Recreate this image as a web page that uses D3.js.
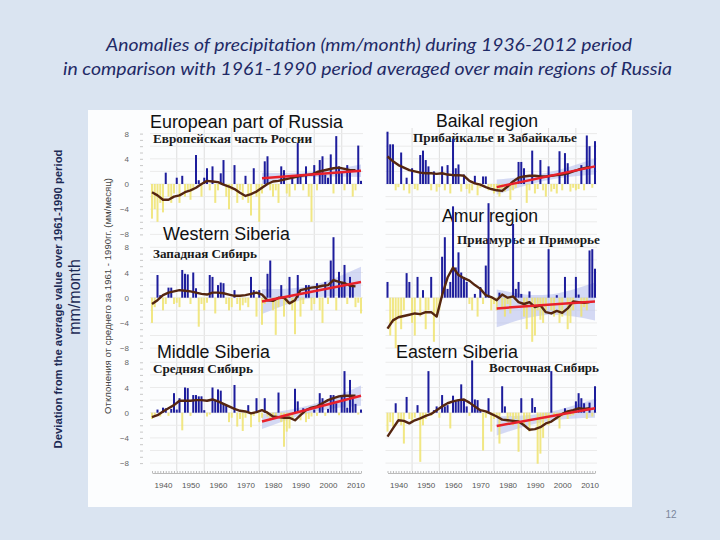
<!DOCTYPE html>
<html>
<head>
<meta charset="utf-8">
<script src="https://cdn.jsdelivr.net/npm/d3@7"></script>
<style>
  body { margin: 0; background: #dae4f1; }
</style>
</head>
<body>
<div class="chart"></div>
<script>
// yearly anomalies 1936-2012, mm/month
const years = d3.range(1936, 2013);

const euBars = [
  -5.5, -4.0, -6.0, -3.0, -4.5, 1.8, -2.0, -3.0, -1.5, 1.0,
  -3.0, 1.3, -2.0, -1.0, -2.5, -1.0, 4.6, 0.6, -2.0, 1.0,
  2.5, -1.0, 2.8, -3.0, -1.0, 1.7, 3.8, -2.0, -4.0, -1.0,
  3.0, -3.0, -1.0, -2.5, 1.3, -3.0, -5.0, 2.5, -2.0, -6.0,
  -1.5, 3.6, 4.4, -1.0, -2.0, -1.0, -3.0, 2.8, 2.2, -1.5,
  -2.0, 1.0, -1.0, 6.5, 1.5, -1.0, 2.8, -2.0, -6.0, 3.0,
  -1.0, 3.8, 4.4, 1.5, 1.0, 4.7, -1.5, 7.6, 2.8, 2.0,
  -1.0, 3.0, 2.0, -2.0, -1.0, 6.1, 0.5
];
const baikalBars = [
  8.3, 6.3, 6.3, -1.0, -0.5, 5.0, -1.0, 1.0, -1.5, 2.5,
  -0.8, -1.0, 4.6, 5.3, 3.8, 2.8, -1.0, 2.0, -1.2, -0.5,
  2.8, -1.0, 3.0, -1.5, 7.2, 2.5, 3.1, -1.2, 1.5, -0.8,
  -1.5, -1.0, 1.3, -1.8, -0.6, 1.2, 1.2, -1.0, -0.5, -1.5,
  -1.0, -2.0, -0.8, -1.2, -0.5, -2.5, -1.0, -0.6, 3.5, 3.5,
  2.5, -3.0, -1.0, 5.3, -1.5, -0.8, 3.8, -1.0, -2.0, 2.8,
  -1.2, -0.8, -1.5, 5.2, -1.0, 4.9, 3.3, -1.2, -0.6, -1.0,
  -0.8, 3.0, -1.0, 7.7, 6.0, -0.6, 6.8
];
const wsibBars = [
  -4.0, -1.5, 3.6, 0.4, -2.0, -1.0, 1.6, 1.6, -1.0, -0.8,
  -1.5, 4.4, 3.8, 3.7, -1.0, 4.0, 1.5, -4.6, -1.0, -2.0,
  -0.8, 3.6, 3.3, -2.5, 2.0, 2.4, 2.3, -1.0, -2.0, -1.5,
  1.2, -1.0, -2.0, -1.2, -0.8, -1.5, 3.3, 1.2, -3.0, 1.2,
  -4.3, -1.0, 3.8, 5.9, -2.0, -5.9, -1.5, 2.0, -3.0, -1.0,
  3.3, -2.0, -5.8, 3.6, -3.0, -1.0, 2.0, 2.0, -2.0, -1.0,
  2.3, -2.0, -4.0, 2.5, -1.0, 5.9, 9.6, -2.0, 4.1, 2.5,
  5.2, -1.0, 3.3, 1.7, -1.5, -0.8, -2.5
];
const amurBars = [
  2.5, -6.0, -4.0, -8.0, -3.0, -5.0, -2.0, 3.9, 2.5, -4.0,
  -6.0, 3.3, -3.0, 1.2, -5.0, -2.0, 3.3, -7.0, -3.0, -2.0,
  6.5, 9.6, 1.4, 2.5, 14.5, 4.8, 7.2, 4.0, 3.3, 2.5,
  -1.0, -2.0, 0.6, -3.0, 1.7, -1.0, 5.1, 15.0, -2.0, -1.0,
  -2.0, 0.8, -1.5, -3.0, -1.0, -2.5, 11.7, 1.4, 2.5, 0.6,
  -3.0, -5.0, 1.0, -7.0, -6.0, -2.0, -3.5, -4.0, -2.0, 7.7,
  -2.0, -3.0, 0.4, -4.0, -3.0, 3.3, -5.0, -4.0, -2.0, 3.3,
  0.5, -3.0, -1.5, -2.0, 7.5, 7.7, 4.6
];
const msibBars = [
  -1.0, -0.5, 0.5, -0.6, 0.8, 0.7, -0.5, 0.6, 3.1, 0.5,
  2.3, -2.8, 4.0, 3.9, -0.5, 2.8, 2.8, 2.6, 2.6, 0.4,
  -0.6, -0.3, 4.0, 2.0, 3.7, 3.5, 1.5, 1.2, -1.5, -0.8,
  4.4, -2.2, -1.0, -2.9, -0.8, 1.2, -2.3, -0.5, 2.3, -1.5,
  -0.8, 2.3, -0.6, -1.0, -0.5, -0.8, 3.2, -1.5, -5.4, -3.0,
  -2.5, -1.0, 3.8, 1.8, -1.2, 0.7, -1.5, -1.0, -0.6, 0.5,
  -0.5, 3.1, 2.3, -0.5, 0.6, 2.8, 2.8, 1.5, -0.4, 2.8,
  6.6, 0.8, 5.2, 2.3, 1.4, -0.3, 0.5
];
const esibBars = [
  -3.0, -1.5, -2.2, 1.5, -1.0, -2.0, -4.9, 2.5, -1.0, -1.5,
  -0.8, 1.2, -7.8, -2.0, -1.0, 6.6, -0.5, 0.4, 1.0, -0.8,
  2.8, 1.0, 1.2, -2.5, 2.7, 1.8, 1.9, 4.5, 1.9, 1.0,
  -0.5, 8.3, 2.1, 2.0, 0.4, -6.0, -0.8, 2.3, -3.0, -1.0,
  -0.8, -4.9, 4.2, 1.0, -1.5, -0.6, -2.0, -1.0, -6.2, 2.3,
  -2.0, -1.0, -3.0, 2.3, 0.9, -8.1, -6.5, -4.0, -1.0, -2.0,
  6.6, -0.5, -1.0, -2.5, -0.6, 0.7, -1.0, -0.5, -0.4, 1.8,
  3.1, 2.3, 1.5, -1.0, 1.6, -0.6, 4.2
];

// smoothed curves (brown), read every second year 1936-2010
const smoothYears = d3.range(1936, 2011, 2);
const euSmooth = [
  -1.3, -1.8, -2.5, -2.5, -2.0, -1.8, -1.3, -1.0, -0.6, 0.0,
  0.5, 0.4, 0.3, -0.1, -0.4, -0.8, -1.4, -1.9, -1.6, -1.2,
  -0.6, 0.0, 0.4, 0.5, 0.7, 0.9, 1.1, 1.3, 1.4, 1.5,
  1.9, 2.1, 2.3, 2.5, 2.6, 2.4, 2.2, 2.2
];
const baikalSmooth = [
  4.4, 3.6, 3.0, 2.6, 2.2, 2.0, 1.8, 1.7, 1.7, 1.6,
  1.7, 1.5, 1.4, 1.4, 1.3, 0.5, 0.1, -0.1, -0.5, -0.8,
  -1.0, -1.1, -0.4, 0.4, 1.0, 1.2, 1.3, 1.3, 1.2, 1.2,
  1.3, 1.4, 1.5, 1.7, 2.0, 2.3, 2.5, 2.7
];
const wsibSmooth = [
  -1.0, -0.4, 0.4, 0.8, 1.0, 1.2, 1.1, 1.0, 0.8, 0.6,
  0.5, 0.8, 0.8, 0.7, 0.5, 0.3, 0.3, 0.4, 0.6, 0.8,
  0.5, -0.4, -0.5, 0.0, 0.0, -0.9, -0.4, 1.2, 1.4, 1.6,
  1.7, 1.9, 2.0, 2.8, 2.5, 2.3, 1.9, 1.8
];
const amurSmooth = [
  -4.9, -3.6, -3.1, -2.9, -2.7, -2.5, -2.6, -2.3, -2.3, -3.0,
  0.4, 3.2, 4.8, 3.6, 3.1, 2.7, 2.0, 1.4, 0.4, 0.1,
  -0.4, 0.5, 0.0, 0.2, -0.7, -1.0, -0.7, -1.5, -1.2, -2.3,
  -2.5, -2.1, -2.4, -1.7, -0.6, -0.7, -0.8, -0.7
];
const msibSmooth = [
  -0.7, -0.4, 0.2, 0.7, 1.2, 1.9, 1.9, 1.9, 2.0, 2.0,
  1.9, 2.1, 1.8, 1.4, 1.0, 0.6, 0.3, 0.2, -0.1, 0.1,
  0.4, 0.0, -0.6, -0.7, -0.8, -0.8, -1.2, -0.4, 0.4, 0.8,
  1.0, 1.5, 2.0, 2.3, 2.6, 2.7, 2.7, 2.7
];
const esibSmooth = [
  -3.8, -2.5, -1.2, -1.3, -1.7, -1.2, -0.9, -0.5, -0.2, 0.4,
  1.0, 1.5, 1.8, 2.0, 2.1, 1.6, 1.0, 0.4, 0.2, -0.2,
  -0.6, -1.1, -1.2, -1.3, -1.4, -2.0, -2.7, -2.6, -2.3, -1.7,
  -1.4, -0.8, -0.2, 0.2, 0.4, 0.7, 0.6, 0.7
];

// linear trend 1976-2012 and its confidence half-width (start, middle, end)
const trendYears = [1976, 1994, 2012];
const trendStart = [0.9, -0.5, -0.6, -1.7, -1.4, -2.1];
const trendEnd = [2.1, 2.8, 2.5, -0.6, 2.7, 0.7];
const bandHalf = [
  [0.9, 0.4, 1.0],
  [1.2, 0.6, 1.3],
  [2.0, 1.0, 2.4],
  [3.0, 1.6, 3.0],
  [1.2, 0.6, 1.6],
  [1.5, 0.7, 1.5]
];

const regionsEn = ['European part of Russia', 'Baikal region', 'Western Siberia',
  'Amur region', 'Middle Siberia', 'Eastern Siberia'];
const regionsRu = ['Европейская часть России', 'Прибайкалье и Забайкалье', 'Западная Сибирь',
  'Приамурье и Приморье', 'Средняя Сибирь', 'Восточная Сибирь'];
const yTicks = [-8, -4, 0, 4, 8];
const xTicks = [1940, 1950, 1960, 1970, 1980, 1990, 2000, 2010];

const allBars = [euBars, baikalBars, wsibBars, amurBars, msibBars, esibBars];
const allSmooth = [euSmooth, baikalSmooth, wsibSmooth, amurSmooth, msibSmooth, esibSmooth];

// layout
const width = 720;
const height = 540;
const colRange = [[152, 361], [387.5, 595]];
const rowZero = [184, 297.7, 412.7];
const unit = 6.3;
// x, baseline, text width
const enPos = [[150, 128, 193], [436, 127, 102], [163, 240, 127], [442, 222, 96], [157, 358, 113], [396, 358, 122]];
const ruPos = [[153, 143, 159], [413, 142, 164], [153, 257.5, 104], [457, 244, 143], [153, 373, 100], [489, 372, 110]];

const svg = d3.select('.chart').append('svg')
  .attr('width', width)
  .attr('height', height)
  .style('display', 'block');

svg.append('rect')
  .attr('width', width).attr('height', height)
  .attr('fill', '#dae4f1');

svg.append('rect')
  .attr('x', 88).attr('y', 110)
  .attr('width', 544).attr('height', 397)
  .attr('fill', '#fcfdfe');

// title
const title = svg.append('g')
  .attr('font-family', 'Lato, "Open Sans", sans-serif')
  .attr('font-style', 'italic')
  .attr('font-size', 18)
  .attr('fill', '#1f2a66')
  .attr('text-anchor', 'middle');
title.append('text').attr('x', 369).attr('y', 51)
  .attr('textLength', 526).attr('lengthAdjust', 'spacingAndGlyphs')
  .text('Anomalies of precipitation (mm/month) during 1936-2012 period');
title.append('text').attr('x', 367.5).attr('y', 75)
  .attr('textLength', 609).attr('lengthAdjust', 'spacingAndGlyphs')
  .text('in comparison with 1961-1990 period averaged over main regions of Russia');

// left side labels
svg.append('text')
  .attr('transform', 'translate(62,299) rotate(-90)')
  .attr('text-anchor', 'middle')
  .attr('font-family', '"Liberation Sans", Arial, sans-serif')
  .attr('font-weight', 'bold')
  .attr('font-size', 11.3)
  .attr('fill', '#1c2a55')
  .text('Deviation from the average value over 1961-1990 period');
svg.append('text')
  .attr('transform', 'translate(80,297) rotate(-90)')
  .attr('text-anchor', 'middle')
  .attr('font-family', '"Liberation Sans", Arial, sans-serif')
  .attr('font-size', 16)
  .attr('fill', '#1c2a55')
  .text('mm/month');
svg.append('text')
  .attr('transform', 'translate(111,296) rotate(-90)')
  .attr('text-anchor', 'middle')
  .attr('font-family', '"Liberation Sans", Arial, sans-serif')
  .attr('font-size', 9.6)
  .attr('fill', '#444')
  .text('Отклонения от среднего за 1961 - 1990гг. (мм/месяц)');

// page number
svg.append('text')
  .attr('x', 671).attr('y', 518)
  .attr('text-anchor', 'middle')
  .attr('font-family', '"Liberation Sans", Arial, sans-serif')
  .attr('font-size', 10)
  .attr('fill', '#7a879c')
  .text('12');

// grid for both columns
colRange.forEach(r => {
  const x = d3.scaleLinear().domain([1936, 2012]).range(r);
  const g = svg.append('g');
  g.selectAll('line.v')
    .data(d3.range(1945, 2012, 10))
    .enter().append('line')
    .attr('x1', d => x(d)).attr('x2', d => x(d))
    .attr('y1', 128).attr('y2', 471)
    .attr('stroke', '#dedede').attr('stroke-width', 1);
  rowZero.forEach(z => {
    g.selectAll(null)
      .data(d3.range(-8, 9, 2))
      .enter().append('line')
      .attr('x1', r[0] - 2).attr('x2', r[1] + 2)
      .attr('y1', d => z - d * unit).attr('y2', d => z - d * unit)
      .attr('stroke', '#ebebeb').attr('stroke-width', 1);
  });
});

const brown = '#552610';

allBars.forEach((vals, i) => {
  const col = i % 2;
  const row = Math.floor(i / 2);
  const z = rowZero[row];
  const x = d3.scaleLinear().domain([1936, 2012]).range(colRange[col]);
  const y = d3.scaleLinear().domain([-8, 8]).range([z + 8 * unit, z - 8 * unit]);
  const g = svg.append('g');

  // region labels
  g.append('text')
    .attr('x', enPos[i][0]).attr('y', enPos[i][1])
    .attr('textLength', enPos[i][2]).attr('lengthAdjust', 'spacingAndGlyphs')
    .attr('font-family', '"Liberation Sans", Arial, sans-serif')
    .attr('font-size', 17.5)
    .attr('fill', '#111')
    .text(regionsEn[i]);
  g.append('text')
    .attr('x', ruPos[i][0]).attr('y', ruPos[i][1])
    .attr('textLength', ruPos[i][2]).attr('lengthAdjust', 'spacingAndGlyphs')
    .attr('font-family', '"Liberation Serif", "DejaVu Serif", serif')
    .attr('font-weight', 'bold')
    .attr('font-size', 12)
    .attr('fill', '#1a1a1a')
    .text(regionsRu[i]);

  // y axis on left column
  if (col === 0) {
    const ax = g.append('g')
      .attr('transform', `translate(${colRange[0][0] - 11},0)`)
      .call(d3.axisLeft(y).tickValues(yTicks).tickSize(0).tickPadding(12).tickFormat(d3.format('d')));
    ax.select('.domain').remove();
    ax.selectAll('text')
      .attr('font-family', '"Liberation Sans", Arial, sans-serif')
      .attr('font-size', 8).attr('fill', '#666');
    const minor = g.append('g')
      .attr('transform', `translate(${colRange[0][0] - 9},0)`)
      .call(d3.axisLeft(y).tickValues(d3.range(-8, 9, 1)).tickSize(3).tickFormat(''));
    minor.select('.domain').remove();
    minor.selectAll('line').attr('stroke', '#c8c8c8');
  }

  // confidence band around the trend
  const tMid = (trendStart[i] + trendEnd[i]) / 2;
  const centre = [trendStart[i], tMid, trendEnd[i]];
  const band = trendYears.map((yr, k) => ({
    yr: yr, lo: centre[k] - bandHalf[i][k], hi: centre[k] + bandHalf[i][k]
  }));
  g.append('path')
    .datum(band)
    .attr('d', d3.area()
      .x(d => x(d.yr))
      .y0(d => y(d.lo))
      .y1(d => y(d.hi))
      .curve(d3.curveNatural))
    .attr('fill', '#b9c1ec')
    .attr('opacity', 0.6);

  // bars
  g.selectAll('rect.bar')
    .data(vals)
    .enter().append('rect')
    .attr('x', (d, k) => x(years[k]) - 1)
    .attr('y', d => Math.min(y(d), y(0)))
    .attr('width', 2)
    .attr('height', d => Math.abs(y(d) - y(0)))
    .attr('fill', d => d >= 0 ? '#1d1d9c' : '#efe36e')
    .attr('opacity', d => d >= 0 ? 1 : 0.85);

  // smoothed curve
  g.append('path')
    .datum(allSmooth[i])
    .attr('d', d3.line()
      .x((d, k) => x(smoothYears[k]))
      .y(d => y(d)))
    .attr('fill', 'none')
    .attr('stroke', brown)
    .attr('stroke-width', 2.4)
    .attr('stroke-linejoin', 'round');

  // trend line
  g.append('line')
    .attr('x1', x(trendYears[0])).attr('y1', y(trendStart[i]))
    .attr('x2', x(trendYears[2])).attr('y2', y(trendEnd[i]))
    .attr('stroke', '#e8212b')
    .attr('stroke-width', 2.5);

  // bottom axis on last row
  if (row === 2) {
    const base = 473;
    const ax = g.append('g')
      .attr('transform', `translate(0,${base})`)
      .call(d3.axisBottom(x).tickValues(xTicks).tickSize(0).tickPadding(9).tickFormat(d3.format('d')));
    ax.select('.domain').attr('stroke', '#bbb');
    ax.selectAll('text')
      .attr('font-family', '"Liberation Sans", Arial, sans-serif')
      .attr('font-size', 8).attr('fill', '#555');
    const minor = g.append('g')
      .attr('transform', `translate(0,${base})`)
      .call(d3.axisBottom(x).tickValues(years).tickSize(-2).tickFormat(''));
    minor.select('.domain').remove();
    minor.selectAll('line').attr('stroke', '#bbb');
  }
});
</script>
</body>
</html>
